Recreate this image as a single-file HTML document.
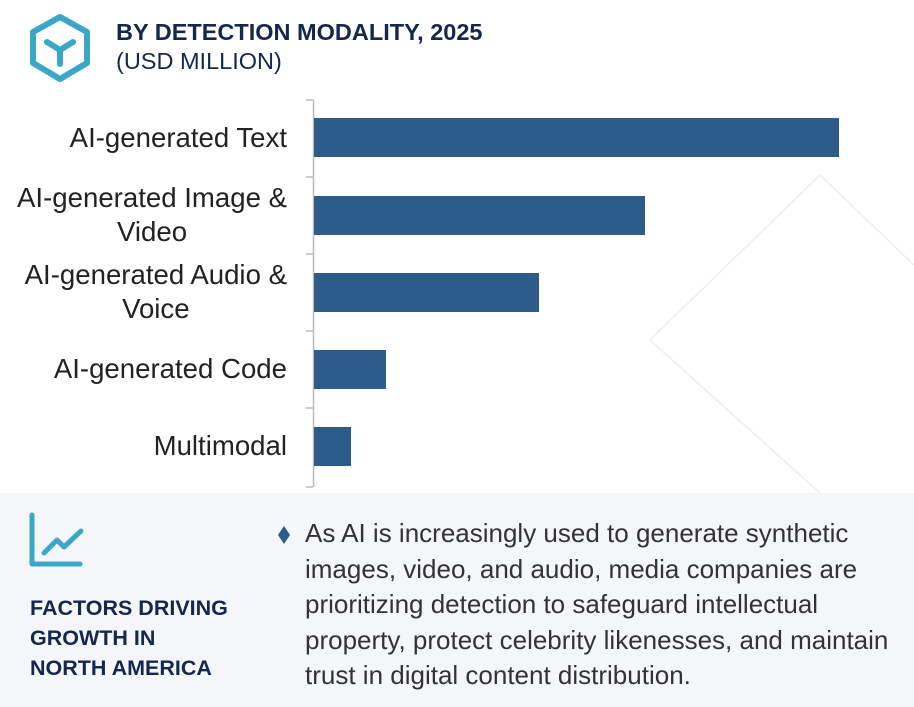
<!DOCTYPE html>
<html><head><style>
body{margin:0;width:914px;height:707px;background:#fff;font-family:"Liberation Sans",sans-serif;position:relative;overflow:hidden}
.a{position:absolute}
.lab{position:absolute;right:627px;text-align:center;font-size:27.6px;color:#222;line-height:34px;display:inline-block}
.bar{position:absolute;left:314px;height:39px;background:#2d5b8a}
.t{position:absolute;left:305px;top:516px;font-size:26px;line-height:35.5px;color:#333;width:585px}
</style></head><body>
<svg class="a" style="left:0;top:0" width="914" height="707">
<polyline points="914,265 820,175 650,340 820,493" fill="none" stroke="#eee" stroke-width="1.5"/>
<polygon points="60,17 87,32 87,63 60,79 33,63 33,32" fill="none" stroke="#3aa7c8" stroke-width="6" stroke-linejoin="round"/>
<path d="M47,42 L60,50 L73,42 M60,50 L60,64" fill="none" stroke="#3aa7c8" stroke-width="6" stroke-linecap="round"/>
<line x1="313.5" y1="100" x2="313.5" y2="487" stroke="#bbb" stroke-width="1.5"/>
<g stroke="#bbb" stroke-width="1.5"><line x1="306" y1="100" x2="313" y2="100"/><line x1="306" y1="177" x2="313" y2="177"/><line x1="306" y1="254" x2="313" y2="254"/><line x1="306" y1="331" x2="313" y2="331"/><line x1="306" y1="408" x2="313" y2="408"/><line x1="306" y1="487" x2="313" y2="487"/></g>
<rect x="0" y="493" width="914" height="214" fill="#f4f6fa"/>
<path d="M32,515 L32,564 L80,564 M44,553 L57,540 L64,547 L81,531" fill="none" stroke="#3aa7c8" stroke-width="5" stroke-linecap="round" stroke-linejoin="round"/>
<polygon points="284,526 290,535 284,544 278,535" fill="#2d5b8a"/>
</svg>
<div class="a" style="left:116px;top:19px;font-size:23.5px;font-weight:bold;color:#14284d">BY DETECTION MODALITY, 2025</div>
<div class="a" style="left:116px;top:48px;font-size:23.5px;color:#14284d">(USD MILLION)</div>
<div class="lab" style="top:121px">AI-generated Text</div>
<div class="lab" style="top:181px">AI-generated Image &amp;<br>Video</div>
<div class="lab" style="top:258px">AI-generated Audio &amp;<br>Voice</div>
<div class="lab" style="top:352px">AI-generated Code</div>
<div class="lab" style="top:429px">Multimodal</div>
<div class="bar" style="top:118px;width:525px"></div>
<div class="bar" style="top:196px;width:331px"></div>
<div class="bar" style="top:273px;width:225px"></div>
<div class="bar" style="top:350px;width:72px"></div>
<div class="bar" style="top:427px;width:37px"></div>
<div class="a" style="left:30px;top:593px;font-size:21.5px;font-weight:bold;color:#14284d;line-height:30px">FACTORS DRIVING<br>GROWTH IN<br>NORTH AMERICA</div>
<div class="t">As AI is increasingly used to generate synthetic images, video, and audio, media companies are prioritizing detection to safeguard intellectual property, protect celebrity likenesses, and maintain trust in digital content distribution.</div>
</body></html>
